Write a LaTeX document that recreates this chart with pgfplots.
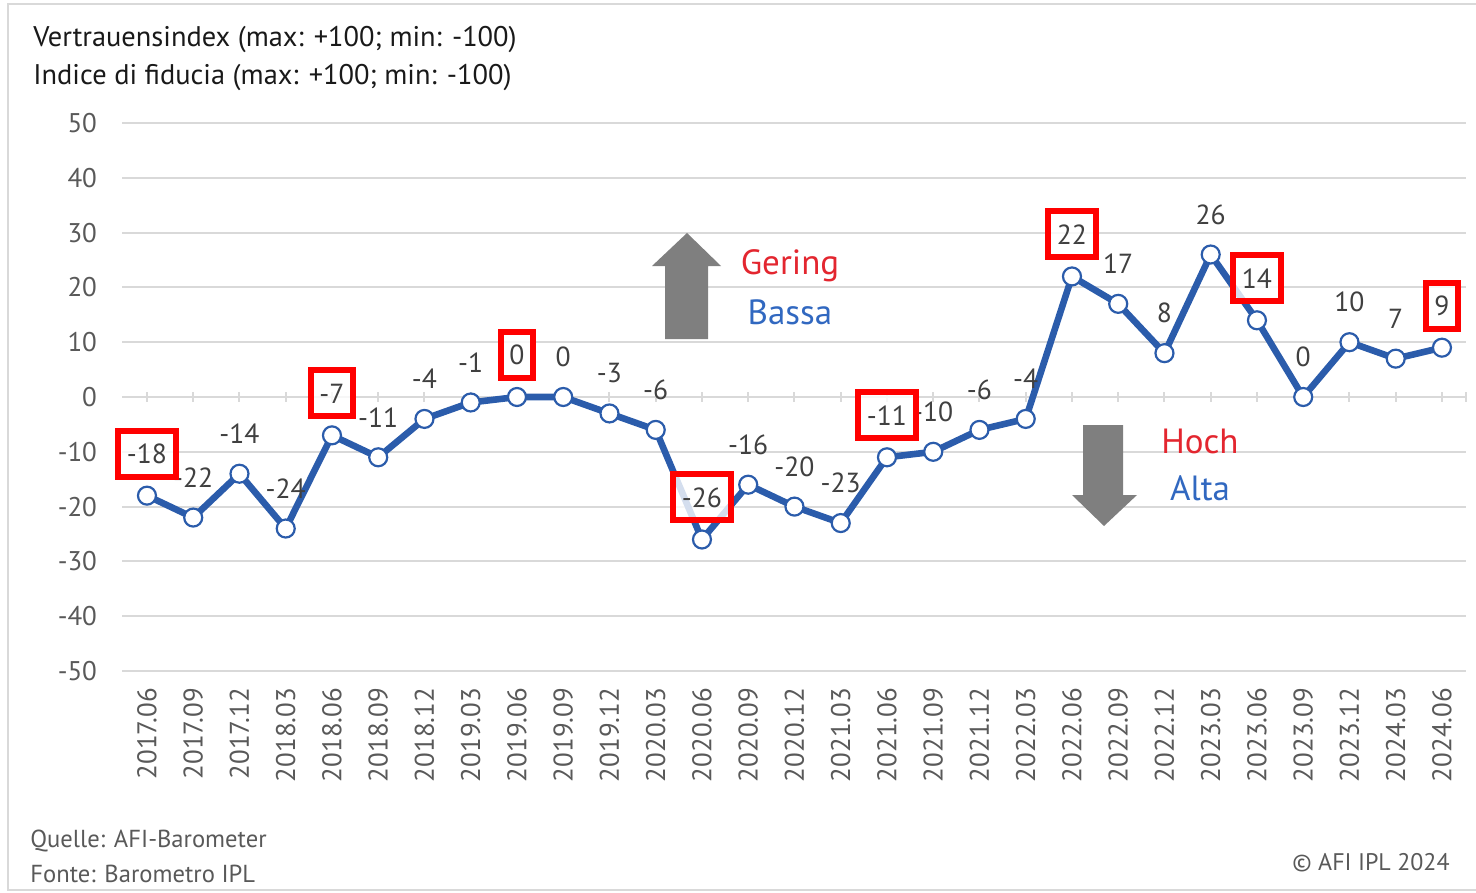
\documentclass[border=0pt]{standalone}
\usepackage{pgfplots}
\pgfplotsset{compat=1.18}
\usepackage{pgfplotstable}
\usepackage{fontspec}
\setmainfont{PT Sans}

\definecolor{serie}{HTML}{2B5CAB}
\definecolor{gridgray}{HTML}{D9D9D9}
\definecolor{ticktext}{HTML}{595959}
\definecolor{labtext}{HTML}{404040}
\definecolor{boxred}{HTML}{FF0000}
\definecolor{txtred}{HTML}{E3262F}
\definecolor{txtblue}{HTML}{3168C0}
\definecolor{arrowgray}{HTML}{7F7F7F}

% quarter index, index value
\pgfplotstableread{
idx val
0  -18
1  -22
2  -14
3  -24
4  -7
5  -11
6  -4
7  -1
8  0
9  0
10 -3
11 -6
12 -26
13 -16
14 -20
15 -23
16 -11
17 -10
18 -6
19 -4
20 22
21 17
22 8
23 26
24 14
25 0
26 10
27 7
28 9
}\datatable

\begin{document}
\begin{tikzpicture}
% pixel-like frame: 1px = 0.5pt, y downwards
\begin{scope}[x=0.5pt,y=-0.5pt]
\path[use as bounding box] (0,0) rectangle (1476,893);
\draw[gridgray, line width=1pt] (1476,4) -- (8,4) -- (8,890) -- (1476,890);
\node[anchor=west, inner sep=0pt, font=\fontsize{14.2}{16}\selectfont, text=black!90] at (33,40) {Vertrauensindex (max: +100; min: -100)};
\node[anchor=west, inner sep=0pt, font=\fontsize{14.2}{16}\selectfont, text=black!90] at (33,78) {Indice di fiducia (max: +100; min: -100)};
\node[anchor=west, inner sep=0pt, font=\fontsize{12.3}{14}\selectfont, text=ticktext] at (30,841) {Quelle: AFI-Barometer};
\node[anchor=west, inner sep=0pt, font=\fontsize{12.3}{14}\selectfont, text=ticktext] at (30,874) {Fonte: Barometro IPL};
\node[anchor=east, inner sep=0pt, font=\fontsize{12}{14}\selectfont, text=ticktext] at (1450,863) {© AFI IPL 2024};
\end{scope}

\begin{axis}[
    at={(61pt,-335.5pt)}, anchor=south west,
    scale only axis,
    width=672pt, height=274pt,
    xmin=-0.54, xmax=28.52,
    ymin=-50, ymax=50,
    axis line style={draw=none},
    ytick={-50,-40,...,50},
    yticklabels={-50,-40,-30,-20,-10,0,10,20,30,40,50},
    xtick={0,...,28},
    xticklabels={2017.06,2017.09,2017.12,2018.03,2018.06,2018.09,2018.12,2019.03,2019.06,2019.09,2019.12,2020.03,2020.06,2020.09,2020.12,2021.03,2021.06,2021.09,2021.12,2022.03,2022.06,2022.09,2022.12,2023.03,2023.06,2023.09,2023.12,2024.03,2024.06},
    major tick length=0pt,
    ymajorgrids,
    grid style={gridgray, line width=1pt},
    tick label style={font=\fontsize{13.5}{15}\selectfont, text=ticktext},
    yticklabel style={xshift=-9pt},
    xticklabel style={yshift=-5pt, rotate=90, anchor=east},
    clip=false,
]
\pgfplotsinvokeforeach{0,...,28}{
  \draw[gridgray, line width=1pt] (axis cs:#1,-0.9) -- (axis cs:#1,0.9);
}
\draw[gridgray, line width=1pt] (axis cs:28.52,-0.9) -- (axis cs:28.52,0.9);

\addplot[serie, line width=3.3pt, mark=*, mark size=4.5pt,
    mark options={fill=white, draw=serie, line width=1.1pt}]
    table[x=idx, y=val] {\datatable};

% plain labels
\addplot[draw=none, mark=none,
    x filter/.expression={mod(x,4)<0.5 ? nan : x},
    point meta=explicit symbolic,
    nodes near coords,
    every node near coord/.append style={anchor=center, yshift=20pt,
        font=\fontsize{13.8}{15}\selectfont, text=labtext, inner sep=0pt}]
    table[x=idx, y=val, meta=val] {\datatable};

% boxed labels (June)
\addplot[draw=none, mark=none,
    x filter/.expression={mod(x,4)<0.5 ? x : nan},
    point meta=explicit symbolic,
    nodes near coords,
    every node near coord/.append style={anchor=center, yshift=21pt,
        font=\fontsize{13.8}{15}\selectfont, text=labtext,
        draw=boxred, line width=3pt, fill=white, fill opacity=0.8, text opacity=1,
        inner xsep=4.3pt, inner ysep=0pt, minimum height=23pt}]
    table[x=idx, y=val, meta=val] {\datatable};
\end{axis}

\begin{scope}[x=0.5pt,y=-0.5pt]
\fill[arrowgray] (665,339) -- (665,266) -- (652,266) -- (687,233) -- (721,266) -- (708,266) -- (708,339) -- cycle;
\fill[arrowgray] (1083,425) -- (1123,425) -- (1123,495) -- (1137,495) -- (1104,526) -- (1072,495) -- (1083,495) -- cycle;
\node[font=\fontsize{17.5}{19}\selectfont, text=txtred] at (790,266) {Gering};
\node[font=\fontsize{17.5}{19}\selectfont, text=txtblue] at (790,312) {Bassa};
\node[font=\fontsize{17.5}{19}\selectfont, text=txtred] at (1200,441) {Hoch};
\node[font=\fontsize{17.5}{19}\selectfont, text=txtblue] at (1200,488) {Alta};
\end{scope}
\end{tikzpicture}
\end{document}
